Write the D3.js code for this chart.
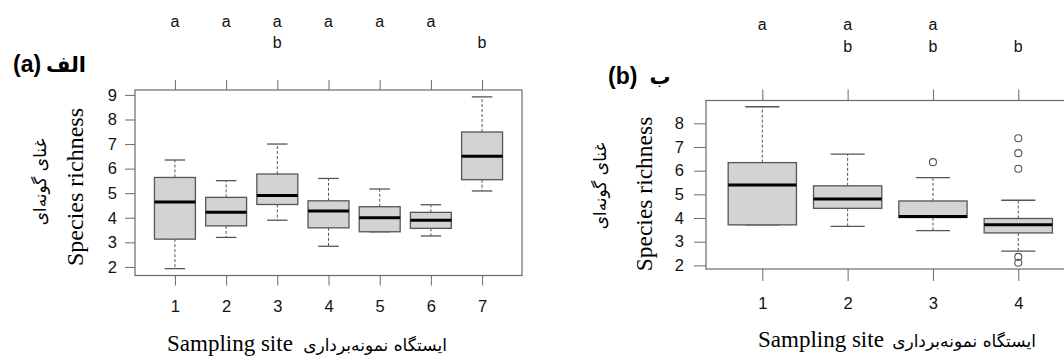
<!DOCTYPE html>
<html>
<head>
<meta charset="utf-8">
<script src="https://cdn.jsdelivr.net/npm/d3@7"></script>
<style>
  body { margin: 0; background: #fff; }
  .tick text { font-family: "Liberation Sans", Arial, sans-serif; fill: #111; }
</style>
</head>
<body>
<svg id="chart" width="1064" height="358"></svg>
<script>
// ---------- panel (a): seven sampling sites ----------
const sitesA = [1, 2, 3, 4, 5, 6, 7];
const lettersA = ['a', 'a', 'ab', 'a', 'a', 'a', 'b'];
const lowA = [1.93, 3.2, 3.9, 2.84, 3.43, 3.26, 5.09];
const q1A = [3.13, 3.67, 4.54, 3.59, 3.43, 3.57, 5.55];
const medA = [4.64, 4.22, 4.91, 4.28, 4.0, 3.9, 6.5];
const q3A = [5.64, 4.83, 5.78, 4.69, 4.45, 4.22, 7.49];
const highA = [6.35, 5.51, 7.0, 5.6, 5.17, 4.53, 8.92];
const outliersA = [[], [], [], [], [], [], []];
const yTicksA = [2, 3, 4, 5, 6, 7, 8, 9];

// ---------- panel (b): four sampling sites ----------
const sitesB = [1, 2, 3, 4];
const lettersB = ['a', 'ab', 'ab', 'b'];
const lowB = [3.71, 3.65, 3.47, 2.6];
const q1B = [3.71, 4.41, 4.02, 3.37];
const medB = [5.39, 4.8, 4.06, 3.72];
const q3B = [6.34, 5.36, 4.72, 3.98];
const highB = [8.7, 6.7, 5.71, 4.75];
const outliersB = [[], [], [6.36], [7.37, 6.74, 6.08, 2.36, 2.11]];
const yTicksB = [2, 3, 4, 5, 6, 7, 8];

const yTitle = 'Species richness';
const yTitleFa = 'غنای گونه‌ای';
const xTitle = 'Sampling site';
const xTitleFa = 'ایستگاه نمونه‌برداری';

const svg = d3.select('#chart');
const frameColor = '#6b6b6b';
const boxColor = '#555';

const drawPanel = (o) => {
  const g = svg.append('g');

  // R style limits: data range padded by 4%
  const all = o.low.concat(o.high, o.outliers.flat());
  const [mn, mx] = d3.extent(all);
  const pad = (mx - mn) * 0.04;
  const y = d3.scaleLinear().domain([mn - pad, mx + pad]).range([o.bottom, o.top]);
  const n = o.sites.length;
  const x = d3.scaleLinear()
    .domain([0.5 - n * 0.04, n + 0.5 + n * 0.04])
    .range([o.left, o.right]);
  const unit = x(1) - x(0);

  // left axis
  g.append('g')
    .attr('transform', `translate(${o.left},0)`)
    .call(d3.axisLeft(y).tickValues(o.yTicks).tickSize(o.tickY).tickPadding(o.padY))
    .call((a) => a.select('.domain').remove())
    .call((a) => a.selectAll('line').attr('stroke', frameColor))
    .call((a) => a.selectAll('text').attr('font-size', 16.5));

  // bottom axis
  g.append('g')
    .attr('transform', `translate(0,${o.bottom})`)
    .call(d3.axisBottom(x).tickValues(o.sites).tickSize(o.tickX).tickPadding(o.padX).tickFormat(d3.format('d')))
    .call((a) => a.select('.domain').remove())
    .call((a) => a.selectAll('line').attr('stroke', frameColor))
    .call((a) => a.selectAll('text').attr('font-size', 16.5));

  // top axis, ticks only
  g.append('g')
    .attr('transform', `translate(0,${o.top})`)
    .call(d3.axisTop(x).tickValues(o.sites).tickSize(o.tickTop).tickFormat(''))
    .call((a) => a.select('.domain').remove())
    .call((a) => a.selectAll('line').attr('stroke', frameColor));

  // significance letters
  o.sites.forEach((s, i) => {
    const l = o.letters[i];
    [['a', o.rowA], ['b', o.rowB]].forEach(([ch, yy]) => {
      if (l.includes(ch)) {
        g.append('text')
          .attr('x', x(s)).attr('y', yy)
          .attr('text-anchor', 'middle')
          .attr('font-family', '"Liberation Sans", Arial, sans-serif')
          .attr('font-size', 16)
          .attr('fill', '#111')
          .text(ch);
      }
    });
  });

  // frame
  g.append('rect')
    .attr('x', o.left).attr('y', o.top)
    .attr('width', o.right - o.left).attr('height', o.bottom - o.top)
    .attr('fill', 'none').attr('stroke', frameColor).attr('stroke-width', 1.2);

  // boxes
  const boxes = g.selectAll('.bx').data(o.sites).enter().append('g').attr('class', 'bx');
  const half = unit * 0.4, cap = unit * 0.2;
  boxes.each(function (s, i) {
    const b = d3.select(this);
    const cx = x(s);
    b.append('line').attr('x1', cx).attr('x2', cx)
      .attr('y1', y(o.q3[i])).attr('y2', y(o.high[i]))
      .attr('stroke', boxColor).attr('stroke-dasharray', '3,2');
    b.append('line').attr('x1', cx).attr('x2', cx)
      .attr('y1', y(o.q1[i])).attr('y2', y(o.low[i]))
      .attr('stroke', boxColor).attr('stroke-dasharray', '3,2');
    [o.high[i], o.low[i]].forEach((v) => {
      b.append('line').attr('x1', cx - cap).attr('x2', cx + cap)
        .attr('y1', y(v)).attr('y2', y(v))
        .attr('stroke', boxColor).attr('stroke-width', 1.3);
    });
    b.append('rect')
      .attr('x', cx - half).attr('y', y(o.q3[i]))
      .attr('width', half * 2).attr('height', y(o.q1[i]) - y(o.q3[i]))
      .attr('fill', '#d3d3d3').attr('stroke', boxColor).attr('stroke-width', 1.3);
    b.append('line').attr('x1', cx - half).attr('x2', cx + half)
      .attr('y1', y(o.med[i])).attr('y2', y(o.med[i]))
      .attr('stroke', '#000').attr('stroke-width', 3);
    b.selectAll('circle').data(o.outliers[i]).enter().append('circle')
      .attr('cx', cx).attr('cy', (v) => y(v)).attr('r', 3.5)
      .attr('fill', 'none').attr('stroke', boxColor).attr('stroke-width', 1.1);
  });

  // titles
  g.append('text')
    .attr('transform', `translate(${o.yTitleX},${o.yTitleY}) rotate(-90)`)
    .attr('text-anchor', 'middle')
    .attr('font-family', '"Liberation Serif", "Times New Roman", serif')
    .attr('font-size', o.titleSize)
    .text(yTitle);
  g.append('text')
    .attr('transform', `translate(${o.yFaX},${o.yFaY}) rotate(-90)`)
    .attr('text-anchor', 'middle')
    .attr('dominant-baseline', 'central')
    .attr('font-family', '"DejaVu Sans", sans-serif')
    .attr('font-size', 17)
    .text(yTitleFa);
  g.append('text')
    .attr('x', o.xTitleX).attr('y', o.xTitleY)
    .attr('font-family', '"Liberation Serif", "Times New Roman", serif')
    .attr('font-size', 23)
    .text(xTitle);
  g.append('text')
    .attr('x', o.xFaX).attr('y', o.xTitleY)
    .attr('text-anchor', 'middle')
    .attr('font-family', '"DejaVu Sans", sans-serif')
    .attr('font-size', 17)
    .text(xTitleFa);

  // panel tag
  g.append('text')
    .attr('x', o.tagX).attr('y', o.tagY)
    .attr('font-family', '"Liberation Sans", Arial, sans-serif')
    .attr('font-weight', 'bold').attr('font-size', 23)
    .text(o.tag);
  g.append('text')
    .attr('x', o.tagFaX).attr('y', o.tagY)
    .attr('text-anchor', 'middle')
    .attr('font-family', '"DejaVu Sans", sans-serif')
    .attr('font-weight', 'bold').attr('font-size', 21)
    .text(o.tagFa);
};

drawPanel({
  sites: sitesA, letters: lettersA, low: lowA, q1: q1A, med: medA, q3: q3A, high: highA,
  outliers: outliersA, yTicks: yTicksA,
  left: 135, right: 522, top: 90, bottom: 275.5,
  tickY: 10, padY: 8, tickX: 10, padX: 15, tickTop: 10,
  rowA: 27, rowB: 48,
  yTitleX: 83, yTitleY: 187, titleSize: 24, yFaX: 40, yFaY: 182,
  xTitleX: 167, xTitleY: 351, xFaX: 375,
  tag: '(a)', tagX: 13, tagY: 72, tagFa: 'الف', tagFaX: 66,
});

drawPanel({
  sites: sitesB, letters: lettersB, low: lowB, q1: q1B, med: medB, q3: q3B, high: highB,
  outliers: outliersB, yTicks: yTicksB,
  left: 706, right: 1074.6, top: 100.5, bottom: 269,
  tickY: 12, padY: 10, tickX: 12, padX: 16, tickTop: 11,
  rowA: 30, rowB: 52,
  yTitleX: 652, yTitleY: 194, titleSize: 23.5, yFaX: 600, yFaY: 186,
  xTitleX: 758, xTitleY: 347, xFaX: 964,
  tag: '(b)', tagX: 608, tagY: 84, tagFa: 'ب', tagFaX: 660,
});
</script>
</body>
</html>
